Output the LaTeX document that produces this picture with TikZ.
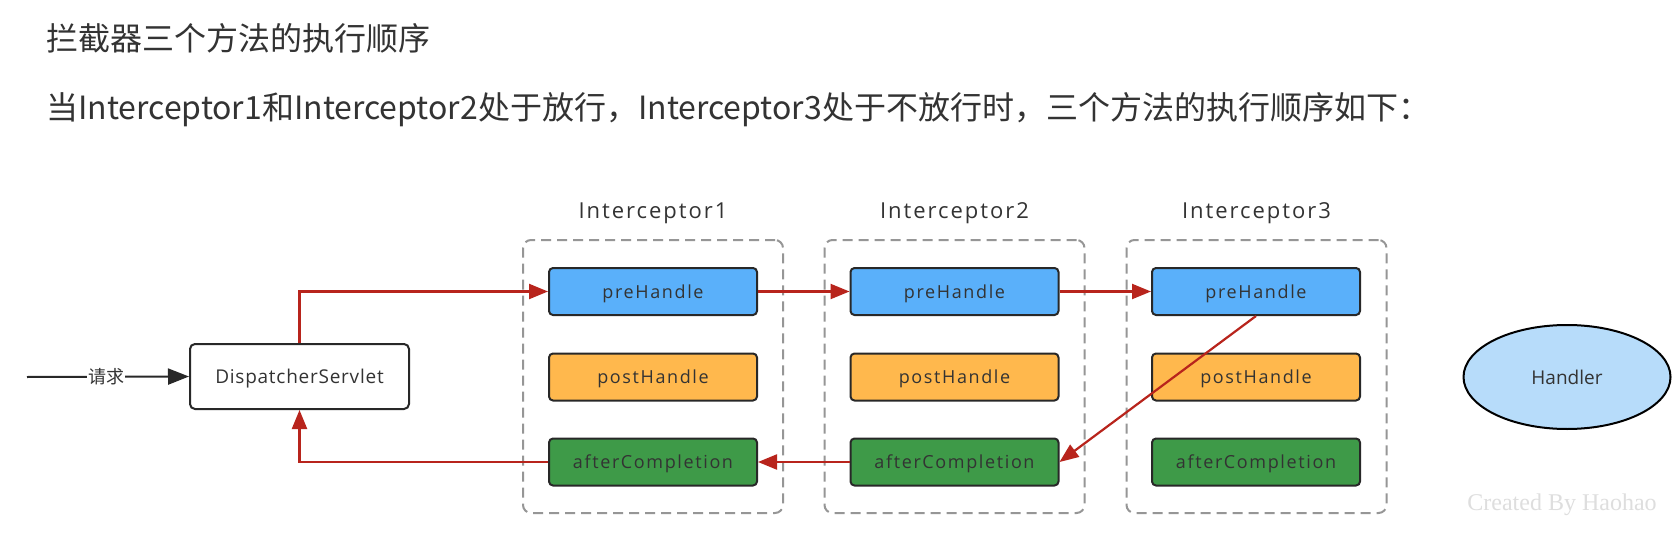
\documentclass[tikz,border=0pt]{standalone}
\usepackage{fontspec}
\setmainfont{Open Sans}
\newfontfamily\cjk{Noto Sans CJK SC}
\newfontfamily\diagsp[LetterSpace=9]{Open Sans}
\newfontfamily\diagmd[LetterSpace=4]{Open Sans}
\newfontfamily\serifwm{Liberation Serif}
\usetikzlibrary{arrows.meta,shapes.geometric}
\definecolor{txt}{RGB}{51,51,51}
\definecolor{preC}{RGB}{90,176,250}
\definecolor{postC}{RGB}{255,184,77}
\definecolor{aftC}{RGB}{62,154,72}
\definecolor{hdlC}{RGB}{183,220,250}
\definecolor{redC}{RGB}{184,36,28}
\definecolor{dashC}{RGB}{150,150,150}
\definecolor{edgeC}{RGB}{40,40,40}
\definecolor{wmC}{RGB}{222,222,222}
\tikzset{
  methodbox/.style={draw=edgeC, line width=2pt, rounded corners=4pt, minimum width=208pt, minimum height=47pt, text=txt, font=\diagsp\fontsize{18}{18}\selectfont, inner sep=0pt, text depth=0pt},
  prebox/.style={methodbox, fill=preC},
  postbox/.style={methodbox, fill=postC},
  aftbox/.style={methodbox, fill=aftC},
  group/.style={draw=dashC, line width=2pt, dash pattern=on 10pt off 6pt, rounded corners=8pt, minimum width=260pt, minimum height=273pt, inner sep=0pt},
  grouplabel/.style={text=txt, font=\diagsp\fontsize{22}{22}\selectfont},
  tip/.style={-{Triangle[length=19pt,width=15pt]}},
  flow/.style={draw=redC, line width=2.2pt, tip},
}
\begin{document}
\begin{tikzpicture}[x=1pt,y=-1pt]
\useasboundingbox (0,0) rectangle (1675,540);
\fill[white] (0,0) rectangle (1675,540);
% titles
\node[anchor=west, text=txt, inner sep=0pt, font=\cjk\fontsize{32}{32}\selectfont] (t1) at (46,38) {拦截器三个方法的执行顺序};
\node[anchor=west, text=txt, inner sep=0pt, font=\cjk\fontsize{32}{32}\selectfont] (t2) at (46,110) {当Interceptor1和Interceptor2处于放行，Interceptor3处于不放行时，三个方法的执行顺序如下：};
% groups
\node[group] (g1) at (653,376.5) {};
\node[group] (g2) at (954.5,376.5) {};
\node[group] (g3) at (1256.5,376.5) {};
\node[grouplabel] (l1) at (653,213) {Interceptor1};
\node[grouplabel] (l2) at (954.5,213) {Interceptor2};
\node[grouplabel] (l3) at (1256.5,213) {Interceptor3};
% method boxes
\node[prebox] (pre1) at (653,291.5) {preHandle};
\node[postbox] (post1) at (653,377) {postHandle};
\node[aftbox] (aft1) at (653,462) {afterCompletion};
\node[prebox] (pre2) at (954.5,291.5) {preHandle};
\node[postbox] (post2) at (954.5,377) {postHandle};
\node[aftbox] (aft2) at (954.5,462) {afterCompletion};
\node[prebox] (pre3) at (1256,291.5) {preHandle};
\node[postbox] (post3) at (1256,377) {postHandle};
\node[aftbox] (aft3) at (1256,462) {afterCompletion};
% dispatcher
\node[draw=edgeC, line width=2pt, rounded corners=5pt, fill=white, minimum width=219pt, minimum height=65pt, text=txt, font=\diagmd\fontsize{19}{19}\selectfont, inner sep=0pt, text depth=0pt] (disp) at (299.5,376.5) {DispatcherServlet};
% handler
\node[ellipse, draw=black, line width=2pt, fill=hdlC, minimum width=207pt, minimum height=104pt, text=txt, font=\fontsize{19}{19}\selectfont, inner sep=0pt] (hdl) at (1567,377) {Handler};
% request
\coordinate (start) at (27,377);
\draw[edgeC, line width=2pt, -{Triangle[length=21pt,width=16pt]}] (start) -- (disp.west) node[pos=0.49, fill=white, inner sep=1pt, text=txt, font=\cjk\fontsize{18}{18}\selectfont] (req) {请求};
% flows
\draw[flow] (disp.north) |- (pre1.west);
\draw[flow] (pre1.east) -- (pre2.west);
\draw[flow] (pre2.east) -- (pre3.west);
\draw[flow] (pre3.south) -- (aft2.east);
\draw[flow] (aft2.west) -- (aft1.east);
\draw[flow] (aft1.west) -| (disp.south);
% watermark
\node[text=wmC, font=\serifwm\fontsize{24}{24}\selectfont] (wm) at (1562,505) {Created By Haohao};
\end{tikzpicture}
\end{document}
